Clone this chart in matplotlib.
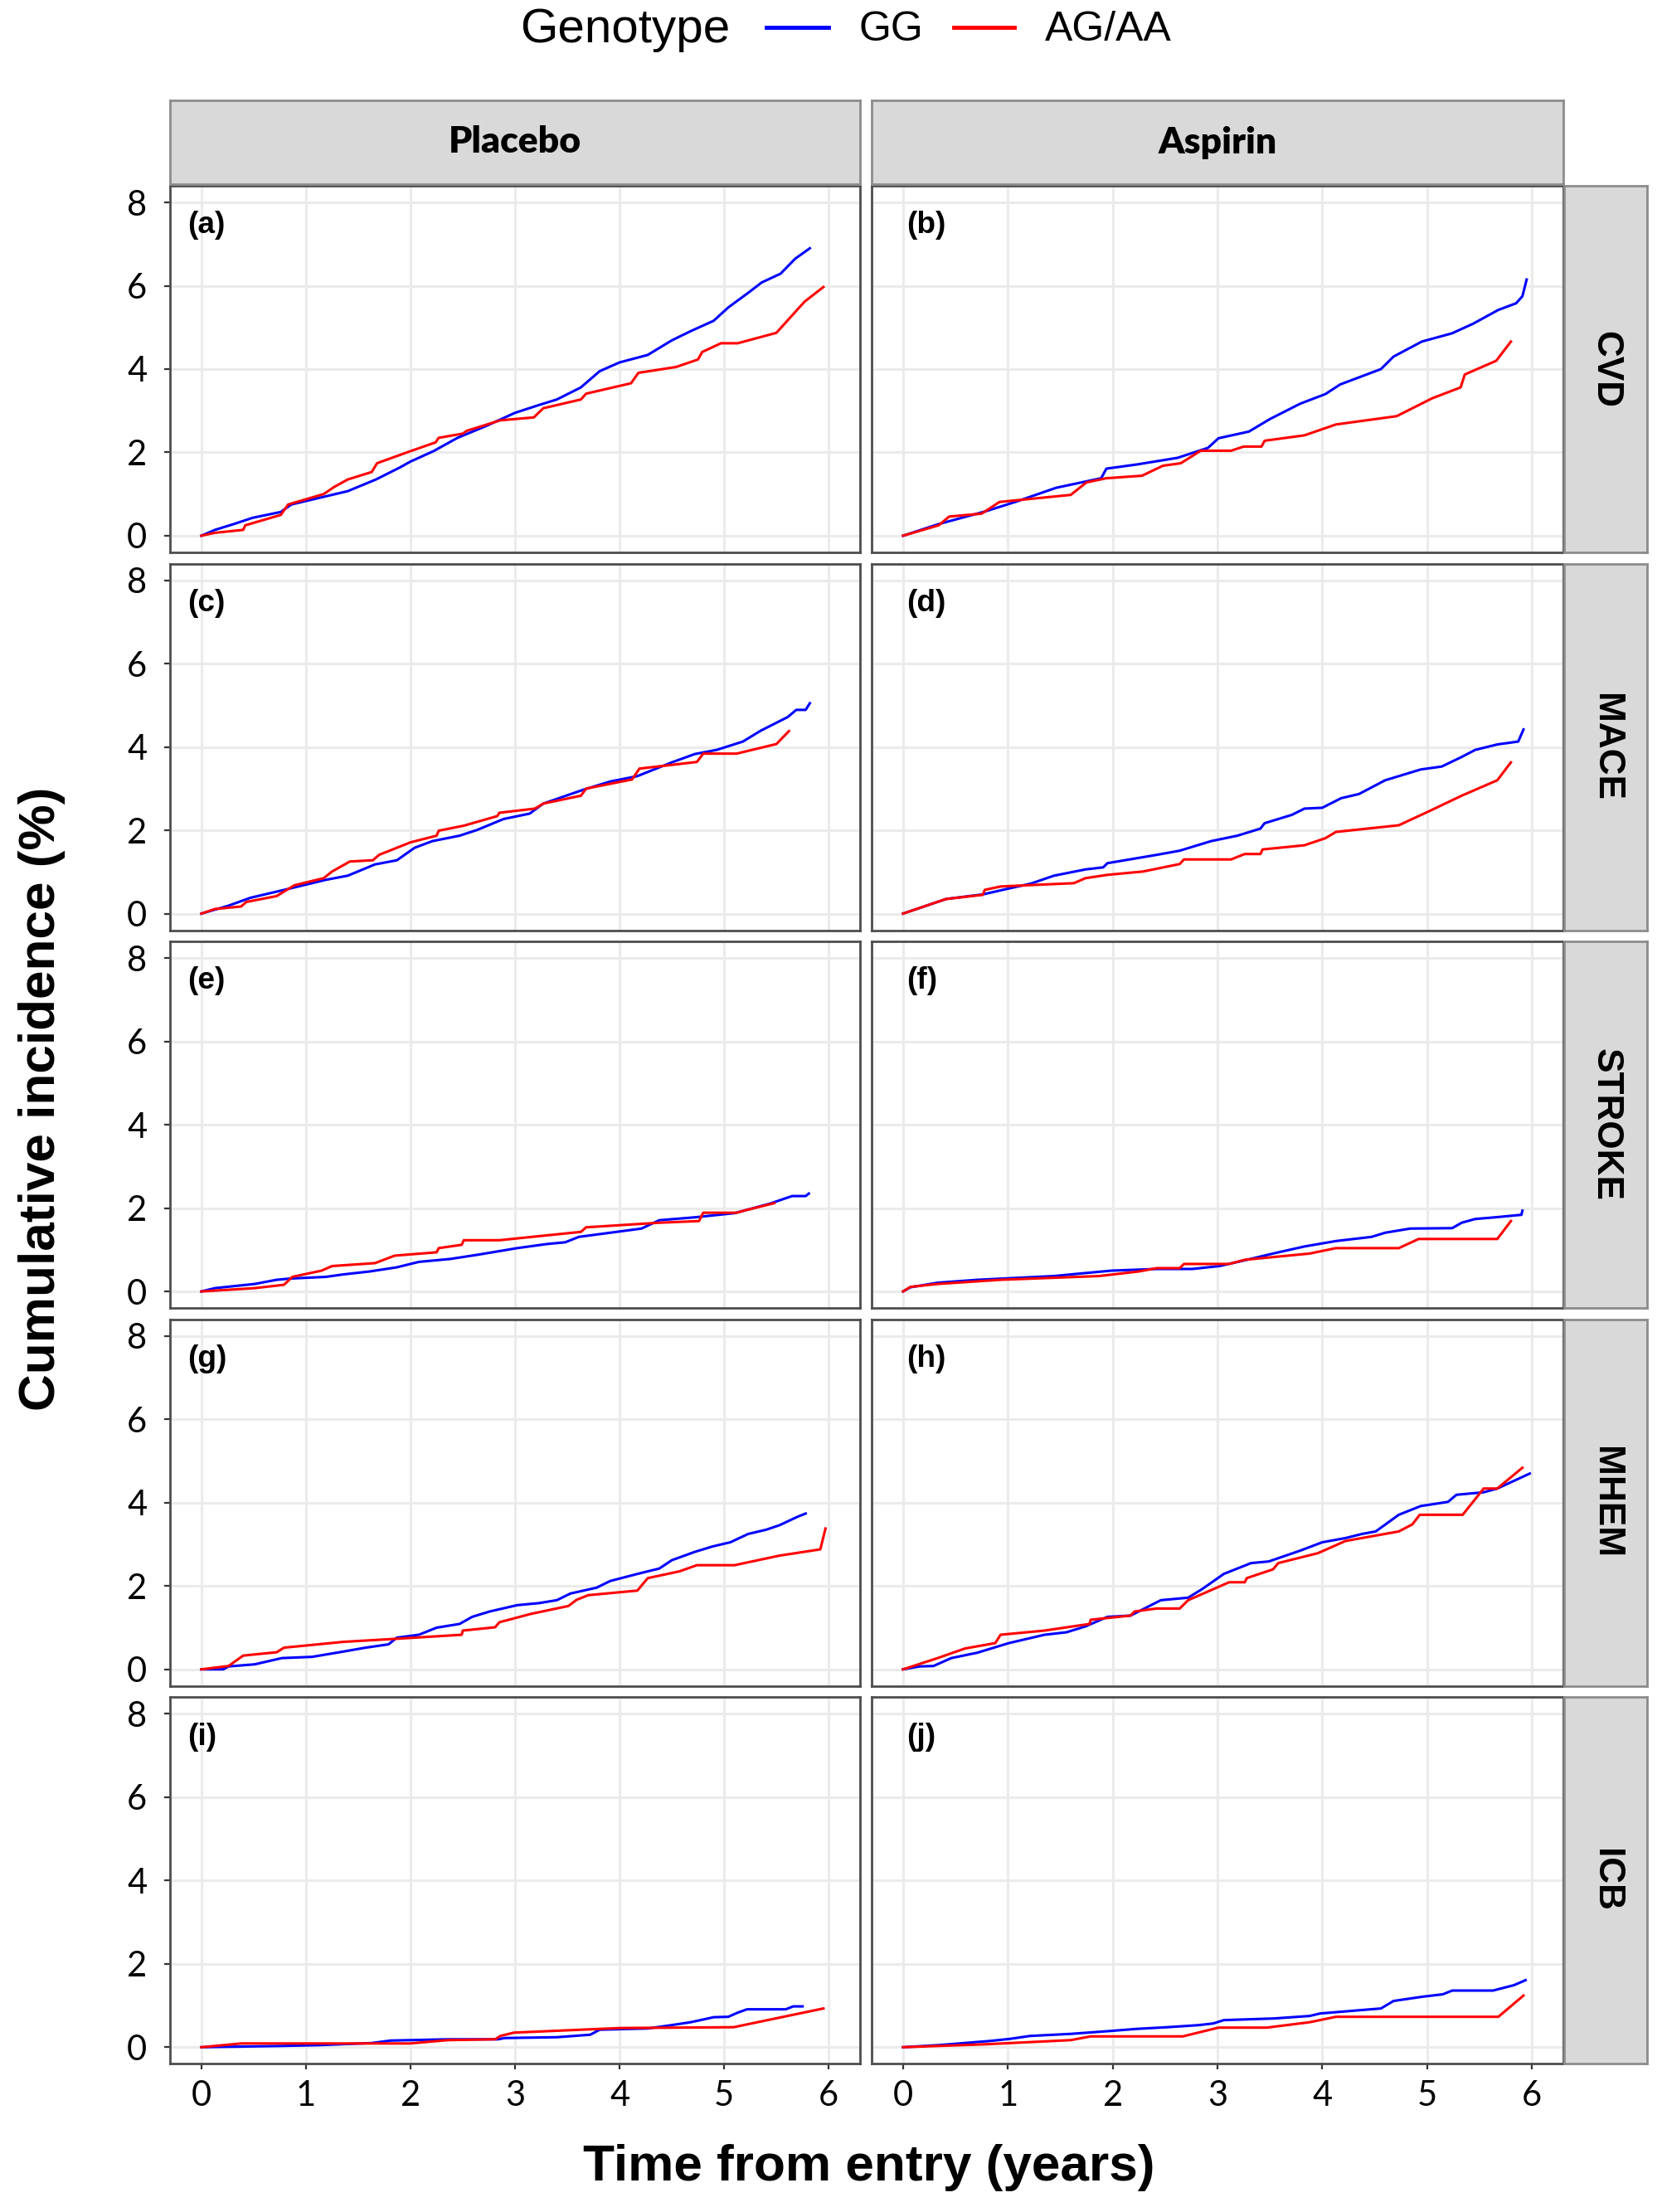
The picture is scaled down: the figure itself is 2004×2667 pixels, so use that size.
import matplotlib
matplotlib.use("Agg")
import matplotlib.pyplot as plt
from matplotlib import font_manager
from matplotlib.lines import Line2D

# ---- data ----
treatments = ["Placebo", "Aspirin"]
outcomes = ["CVD", "MACE", "STROKE", "MHEM", "ICB"]
panel_tags = ["(a)", "(b)", "(c)", "(d)", "(e)", "(f)", "(g)", "(h)", "(i)", "(j)"]
genotypes = ["GG", "AG/AA"]
x_ticks = [0, 1, 2, 3, 4, 5, 6]
y_ticks = [0, 2, 4, 6, 8]

# (a) CVD placebo
a_gg_t = [0, 0.13, 0.31, 0.49, 0.76, 0.86, 1.4, 1.67, 1.9, 2.0, 2.22, 2.45, 2.72, 3.0, 3.22, 3.4, 3.63, 3.81, 4.0,
          4.27, 4.5, 4.68, 4.9, 5.04, 5.23, 5.36, 5.54, 5.68, 5.82]
a_gg_y = [0, 0.14, 0.28, 0.43, 0.57, 0.75, 1.07, 1.35, 1.64, 1.78, 2.03, 2.35, 2.63, 2.95, 3.13, 3.27, 3.56, 3.95, 4.16,
          4.34, 4.69, 4.91, 5.16, 5.48, 5.83, 6.08, 6.29, 6.65, 6.9]
a_aa_t = [0, 0.13, 0.4, 0.42, 0.76, 0.83, 1.17, 1.27, 1.4, 1.63, 1.68, 2.0, 2.24, 2.27, 2.5, 2.54, 2.86, 3.18, 3.27,
          3.63, 3.68, 4.11, 4.18, 4.54, 4.75, 4.79, 4.97, 5.13, 5.5, 5.77, 5.95]
a_aa_y = [0, 0.07, 0.14, 0.25, 0.5, 0.75, 1.0, 1.17, 1.35, 1.53, 1.74, 2.03, 2.24, 2.35, 2.45, 2.52, 2.77, 2.84, 3.06,
          3.27, 3.41, 3.66, 3.91, 4.05, 4.23, 4.41, 4.62, 4.62, 4.87, 5.62, 5.97]
# (b) CVD aspirin
b_gg_t = [0, 0.34, 0.78, 1.07, 1.46, 1.89, 1.94, 2.23, 2.62, 2.91, 3.01, 3.3, 3.5, 3.79, 4.03, 4.17, 4.56, 4.68, 4.95,
          5.24, 5.44, 5.68, 5.85, 5.91, 5.95]
b_gg_y = [0, 0.28, 0.58, 0.81, 1.15, 1.38, 1.61, 1.71, 1.87, 2.11, 2.34, 2.5, 2.8, 3.17, 3.4, 3.63, 4.0, 4.3, 4.66,
          4.86, 5.09, 5.42, 5.58, 5.75, 6.15]
b_aa_t = [0, 0.34, 0.44, 0.75, 0.92, 1.6, 1.75, 1.94, 2.28, 2.48, 2.65, 2.84, 3.13, 3.25, 3.42, 3.45, 3.83, 4.13, 4.71,
          5.05, 5.32, 5.36, 5.66, 5.8]
b_aa_y = [0, 0.25, 0.46, 0.53, 0.81, 0.98, 1.28, 1.38, 1.44, 1.68, 1.74, 2.04, 2.04, 2.14, 2.14, 2.28, 2.41, 2.67, 2.87,
          3.3, 3.56, 3.87, 4.2, 4.66]
# (c) MACE placebo
c_gg_t = [0, 0.26, 0.47, 0.81, 1.19, 1.4, 1.66, 1.87, 2.04, 2.21, 2.47, 2.64, 2.89, 3.14, 3.27, 3.65, 3.91, 4.17, 4.5,
          4.72, 4.93, 5.18, 5.35, 5.61, 5.69, 5.78, 5.82]
c_gg_y = [0, 0.19, 0.38, 0.58, 0.81, 0.91, 1.18, 1.28, 1.58, 1.74, 1.87, 2.01, 2.27, 2.4, 2.64, 2.97, 3.17, 3.3, 3.63,
          3.83, 3.93, 4.13, 4.39, 4.72, 4.89, 4.89, 5.05]
c_aa_t = [0, 0.13, 0.38, 0.43, 0.72, 0.89, 1.17, 1.25, 1.42, 1.64, 1.7, 2.0, 2.25, 2.27, 2.51, 2.83, 2.85, 3.19, 3.27,
          3.63, 3.68, 4.12, 4.19, 4.74, 4.8, 5.12, 5.5, 5.62]
c_aa_y = [0, 0.11, 0.17, 0.28, 0.42, 0.68, 0.85, 1.01, 1.25, 1.28, 1.41, 1.71, 1.87, 1.99, 2.11, 2.34, 2.42, 2.52, 2.64,
          2.83, 3.0, 3.22, 3.48, 3.64, 3.84, 3.84, 4.07, 4.38]
# (d) MACE aspirin
d_gg_t = [0, 0.41, 0.76, 0.97, 1.22, 1.44, 1.74, 1.91, 1.95, 2.42, 2.64, 2.94, 3.19, 3.41, 3.45, 3.71, 3.83, 4.0, 4.18,
          4.35, 4.6, 4.94, 5.14, 5.33, 5.46, 5.67, 5.87, 5.92]
d_gg_y = [0, 0.35, 0.46, 0.58, 0.72, 0.91, 1.06, 1.11, 1.21, 1.41, 1.51, 1.74, 1.87, 2.04, 2.17, 2.37, 2.52, 2.54, 2.77,
          2.87, 3.2, 3.46, 3.53, 3.76, 3.93, 4.06, 4.13, 4.42]
d_aa_t = [0, 0.41, 0.76, 0.78, 0.93, 1.18, 1.63, 1.74, 1.95, 2.29, 2.64, 2.68, 3.13, 3.26, 3.41, 3.43, 3.83, 4.03, 4.13,
          4.73, 5.03, 5.33, 5.67, 5.8]
d_aa_y = [0, 0.35, 0.45, 0.57, 0.65, 0.68, 0.73, 0.85, 0.93, 1.01, 1.19, 1.3, 1.3, 1.43, 1.43, 1.54, 1.64, 1.81, 1.96,
          2.12, 2.47, 2.83, 3.2, 3.63]
# (e) STROKE placebo
e_gg_t = [0, 0.13, 0.51, 0.72, 0.85, 1.19, 1.36, 1.61, 1.87, 2.08, 2.38, 2.64, 3.02, 3.31, 3.48, 3.61, 3.91, 4.21,
          4.38, 4.72, 5.1, 5.19, 5.44, 5.65, 5.78, 5.81]
e_gg_y = [0, 0.08, 0.18, 0.28, 0.31, 0.35, 0.41, 0.48, 0.58, 0.71, 0.78, 0.88, 1.04, 1.14, 1.18, 1.31, 1.41, 1.51,
          1.71, 1.78, 1.88, 1.94, 2.11, 2.29, 2.29, 2.35]
e_aa_t = [0, 0.51, 0.79, 0.87, 1.15, 1.25, 1.66, 1.85, 2.25, 2.27, 2.49, 2.51, 2.85, 3.63, 3.68, 4.38, 4.76, 4.8, 5.12,
          5.19, 5.48]
e_aa_y = [0, 0.08, 0.16, 0.35, 0.5, 0.61, 0.68, 0.86, 0.94, 1.04, 1.12, 1.23, 1.23, 1.43, 1.54, 1.65, 1.69, 1.89, 1.89,
          1.94, 2.12]
# (f) STROKE aspirin
f_gg_t = [0, 0.07, 0.33, 0.71, 1.44, 1.69, 1.99, 2.42, 2.76, 3.02, 3.28, 3.53, 3.83, 4.13, 4.47, 4.6, 4.84, 5.24, 5.33,
          5.46, 5.65, 5.9, 5.91]
f_gg_y = [0, 0.1, 0.21, 0.28, 0.37, 0.43, 0.5, 0.54, 0.54, 0.61, 0.76, 0.91, 1.08, 1.21, 1.31, 1.41, 1.51, 1.52, 1.65,
          1.74, 1.78, 1.84, 1.94]
f_aa_t = [0, 0.07, 0.33, 0.93, 1.87, 2.25, 2.42, 2.64, 2.68, 3.11, 3.26, 3.88, 4.13, 4.73, 4.92, 5.67, 5.8]
f_aa_y = [0, 0.11, 0.18, 0.28, 0.37, 0.48, 0.56, 0.56, 0.66, 0.66, 0.76, 0.91, 1.04, 1.04, 1.26, 1.26, 1.69]
# (g) MHEM placebo
g_gg_t = [0, 0.21, 0.26, 0.51, 0.77, 1.06, 1.32, 1.57, 1.79, 1.87, 2.08, 2.25, 2.47, 2.59, 2.76, 3.02, 3.23, 3.4, 3.53,
          3.78, 3.91, 4.17, 4.38, 4.5, 4.72, 4.89, 5.06, 5.23, 5.4, 5.53, 5.7, 5.78]
g_gg_y = [0, 0, 0.07, 0.12, 0.27, 0.3, 0.41, 0.52, 0.6, 0.76, 0.83, 1.0, 1.09, 1.26, 1.39, 1.54, 1.59, 1.66, 1.82, 1.96,
          2.12, 2.29, 2.42, 2.62, 2.82, 2.95, 3.05, 3.25, 3.35, 3.46, 3.66, 3.74]
g_aa_t = [0, 0.26, 0.4, 0.72, 0.79, 1.36, 1.91, 2.49, 2.5, 2.81, 2.85, 3.15, 3.51, 3.59, 3.7, 4.17, 4.27, 4.57, 4.74,
          5.1, 5.53, 5.92, 5.97]
g_aa_y = [0, 0.08, 0.33, 0.41, 0.52, 0.66, 0.74, 0.83, 0.93, 1.01, 1.13, 1.33, 1.52, 1.67, 1.78, 1.89, 2.19, 2.35, 2.5,
          2.5, 2.73, 2.88, 3.38]
# (h) MHEM aspirin
h_gg_t = [0, 0.16, 0.29, 0.46, 0.71, 0.84, 1.01, 1.35, 1.56, 1.74, 1.95, 2.17, 2.46, 2.72, 2.85, 3.06, 3.32, 3.49, 3.79,
          4.0, 4.22, 4.38, 4.51, 4.73, 4.94, 5.2, 5.28, 5.54, 5.67, 5.98]
h_gg_y = [0, 0.07, 0.08, 0.27, 0.4, 0.5, 0.63, 0.83, 0.89, 1.03, 1.26, 1.29, 1.66, 1.72, 1.92, 2.29, 2.55, 2.59, 2.85,
          3.05, 3.15, 3.25, 3.31, 3.71, 3.92, 4.02, 4.19, 4.25, 4.34, 4.7]
h_aa_t = [0, 0.33, 0.59, 0.88, 0.93, 1.35, 1.78, 1.79, 2.17, 2.21, 2.42, 2.64, 2.72, 3.11, 3.26, 3.28, 3.53, 3.58, 3.96,
          4.22, 4.73, 4.86, 4.93, 5.34, 5.54, 5.67, 5.91]
h_aa_y = [0, 0.27, 0.5, 0.63, 0.83, 0.93, 1.09, 1.19, 1.29, 1.39, 1.46, 1.46, 1.66, 2.09, 2.09, 2.19, 2.4, 2.55, 2.79,
          3.08, 3.31, 3.48, 3.71, 3.71, 4.34, 4.34, 4.84]
# (i) ICB placebo
i_gg_t = [0, 0.76, 1.13, 1.63, 1.81, 2.36, 2.84, 2.9, 3.4, 3.72, 3.81, 4.27, 4.47, 4.68, 4.81, 4.9, 5.04, 5.13, 5.22,
          5.59, 5.66, 5.75]
i_gg_y = [0, 0.03, 0.05, 0.1, 0.16, 0.19, 0.19, 0.22, 0.24, 0.3, 0.42, 0.45, 0.52, 0.6, 0.67, 0.72, 0.73, 0.83, 0.91,
          0.91, 0.98, 0.98]
i_aa_t = [0, 0.38, 1.99, 2.36, 2.81, 2.86, 2.99, 3.63, 4.0, 5.09, 5.95]
i_aa_y = [0, 0.09, 0.09, 0.17, 0.19, 0.27, 0.35, 0.42, 0.46, 0.48, 0.93]
# (j) ICB aspirin
j_gg_t = [0, 0.34, 0.83, 1.02, 1.21, 1.6, 1.98, 2.23, 2.52, 2.82, 2.96, 3.06, 3.54, 3.88, 3.98, 4.56, 4.68, 4.95, 5.15,
          5.24, 5.63, 5.83, 5.94]
j_gg_y = [0, 0.05, 0.15, 0.2, 0.27, 0.32, 0.39, 0.44, 0.48, 0.53, 0.57, 0.65, 0.69, 0.75, 0.81, 0.93, 1.11, 1.21, 1.27,
          1.36, 1.36, 1.49, 1.61]
j_aa_t = [0, 0.78, 1.6, 1.79, 2.67, 3.01, 3.47, 3.88, 4.13, 5.68, 5.92]
j_aa_y = [0, 0.07, 0.17, 0.26, 0.26, 0.47, 0.47, 0.6, 0.73, 0.73, 1.24]

curves = [(a_gg_t, a_gg_y, a_aa_t, a_aa_y), (b_gg_t, b_gg_y, b_aa_t, b_aa_y),
          (c_gg_t, c_gg_y, c_aa_t, c_aa_y), (d_gg_t, d_gg_y, d_aa_t, d_aa_y),
          (e_gg_t, e_gg_y, e_aa_t, e_aa_y), (f_gg_t, f_gg_y, f_aa_t, f_aa_y),
          (g_gg_t, g_gg_y, g_aa_t, g_aa_y), (h_gg_t, h_gg_y, h_aa_t, h_aa_y),
          (i_gg_t, i_gg_y, i_aa_t, i_aa_y), (j_gg_t, j_gg_y, j_aa_t, j_aa_y)]

# ---- fonts ----
names = set(f.name for f in font_manager.fontManager.ttflist)
if "Liberation Sans Narrow" in names:
    narrow = ["Liberation Sans Narrow", "DejaVu Sans"]
    nscale = 1.0
else:
    narrow = ["Liberation Sans", "DejaVu Sans"]
    nscale = 0.86
calib = ["Lato", "DejaVu Sans"] if "Lato" in names else ["DejaVu Sans"]
plt.rcParams['font.family'] = calib

W, H = 2004, 2667
fig = plt.figure(figsize=(W / 100, H / 100), dpi=100)
fig.patch.set_facecolor("white")


def fx(px):
    return px / W


def fy(py):
    return 1 - py / H


col_left = [205, 1051]
col_w = [832, 834]
row_top = [224, 679.6, 1135.2, 1590.8, 2046.4]
row_h = 442
blue = "#0000FF"
red = "#FF0000"
border = "#4D4D4D"
tag_x = [-0.13, 0.03]

for r in range(5):
    for c in range(2):
        k = r * 2 + c
        ax = fig.add_axes([fx(col_left[c]), fy(row_top[r] + row_h), fx(col_w[c]), row_h / H])
        ax.set_xlim(-0.3, 6.3)
        ax.set_ylim(-0.4, 8.4)
        ax.set_xticks(x_ticks)
        ax.set_yticks(y_ticks)
        ax.grid(True, color="#EBEBEB", lw=2.2)
        ax.set_axisbelow(True)
        for s in ax.spines.values():
            s.set_color(border)
            s.set_linewidth(2)
        gt, gy, at, ay = curves[k]
        ax.plot(gt, gy, color=blue, lw=2.2)
        ax.plot(at, ay, color=red, lw=2.2)
        ax.text(tag_x[c], 7.45, panel_tags[k], ha="left", va="center", fontsize=31 * nscale,
                fontweight="bold", family=narrow)
        ax.tick_params(length=5, width=1.6, color="#333333", labelsize=30, labelcolor="black")
        ax.tick_params(axis="y", pad=15)
        ax.tick_params(axis="x", pad=9)
        if c == 1:
            ax.tick_params(axis="y", left=False, labelleft=False)
        if r < 4:
            ax.tick_params(axis="x", bottom=False, labelbottom=False)

        # right strip
        if c == 1:
            sax = fig.add_axes([fx(1886), fy(row_top[r] + row_h), fx(100), row_h / H])
            sax.set_facecolor("#D9D9D9")
            sax.set_xticks([])
            sax.set_yticks([])
            for s in sax.spines.values():
                s.set_color("#8C8C8C")
                s.set_linewidth(2)
            sax.text(0.5, 0.5, outcomes[r], rotation=-90, ha="center", va="center",
                     transform=sax.transAxes, fontsize=37 * nscale, fontweight="bold", family=narrow)

# top strips
for c in range(2):
    sax = fig.add_axes([fx(col_left[c]), fy(222), fx(col_w[c]), 101 / H])
    sax.set_facecolor("#D9D9D9")
    sax.set_xticks([])
    sax.set_yticks([])
    for s in sax.spines.values():
        s.set_color("#8C8C8C")
        s.set_linewidth(2)
    sax.text(0.5, 0.5, treatments[c], ha="center", va="center", transform=sax.transAxes,
             fontsize=32, fontweight="heavy")

# axis titles
fig.text(fx(1048), fy(2614), "Time from entry (years)", ha="center", va="center",
         fontsize=52 * nscale, fontweight="bold", family=narrow)
fig.text(fx(51), fy(1325), "Cumulative incidence (%)", ha="center", va="center", rotation=90,
         fontsize=52 * nscale, fontweight="bold", family=narrow)

# legend
leg_font = ["Liberation Sans", "DejaVu Sans"]
fig.text(fx(627), fy(36), "Genotype", ha="left", va="center", fontsize=42, family=leg_font)
fig.add_artist(Line2D([fx(924), fx(999)], [fy(33), fy(33)], color=blue, lw=3.5))
fig.text(fx(1036), fy(36), genotypes[0], ha="left", va="center", fontsize=36, family=leg_font)
fig.add_artist(Line2D([fx(1150), fx(1223)], [fy(33), fy(33)], color=red, lw=3.5))
fig.text(fx(1260), fy(36), genotypes[1], ha="left", va="center", fontsize=36, family=leg_font)

fig.savefig("out.png", dpi=100, facecolor="white")
